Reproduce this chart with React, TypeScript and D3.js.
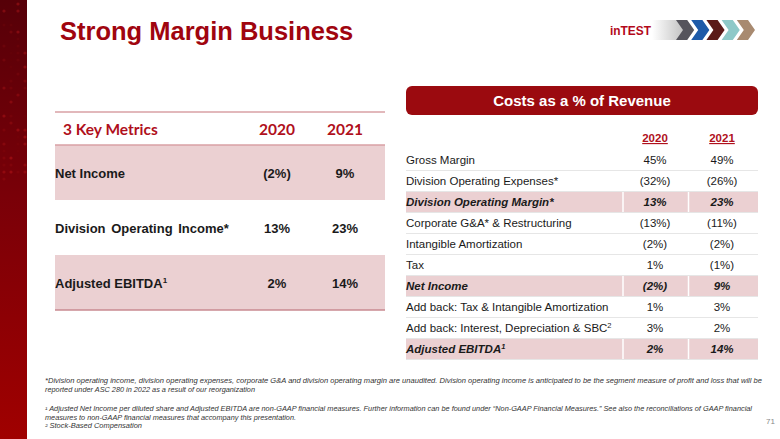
import React from "react";
import * as d3 from "d3";

const title = "Strong Margin Business";
const years = ["2020", "2021"];

const keyMetrics = ["Net Income", "Division Operating Income*", "Adjusted EBITDA"];
const keyMetrics2020 = ["(2%)", "13%", "2%"];
const keyMetrics2021 = ["9%", "23%", "14%"];
const keyMetricSup = ["", "", "1"];
const keyMetricShaded = [true, false, true];

const costRows = [
  "Gross Margin",
  "Division Operating Expenses*",
  "Division Operating Margin*",
  "Corporate G&A* & Restructuring",
  "Intangible Amortization",
  "Tax",
  "Net Income",
  "Add back: Tax & Intangible Amortization",
  "Add back: Interest, Depreciation & SBC",
  "Adjusted EBITDA",
];
const costSup = ["", "", "", "", "", "", "", "", "2", "1"];
const cost2020 = ["45%", "(32%)", "13%", "(13%)", "(2%)", "1%", "(2%)", "1%", "3%", "2%"];
const cost2021 = ["49%", "(26%)", "23%", "(11%)", "(2%)", "(1%)", "9%", "3%", "2%", "14%"];
const costHighlight = [false, false, true, false, false, false, true, false, false, true];

const footnotes = [
  "*Division operating income, division operating expenses, corporate G&A and division operating margin are unaudited.  Division operating income is anticipated to be the segment measure of profit and loss that will be",
  "reported under ASC 280 in 2022 as a result of our reorganization",
  "\u00B9 Adjusted Net Income per diluted share and Adjusted EBITDA are non-GAAP financial measures. Further information can be found under \u201CNon-GAAP Financial Measures.\u201D See also the reconciliations of GAAP financial",
  "measures to non-GAAP financial measures that accompany this presentation.",
  "\u00B2 Stock-Based Compensation",
];
const pageNumber = "71";

const PINK = "#ebd0d2";
const SANS = "Arial, 'Liberation Sans', sans-serif";

function Sidebar() {
  const cols = d3.range(4);
  const rows = d3.range(40);
  const dots: { x: number; y: number; o: number }[] = [];
  rows.forEach((r) =>
    cols.forEach((c) => {
      const h = Math.abs(Math.sin(r * 12.9898 + c * 78.233) * 43758.5453) % 1;
      if (h > 0.45 && r < 26) dots.push({ x: 4 + c * 7, y: 4 + r * 7, o: (h - 0.45) * 0.5 });
    })
  );
  return (
    <g>
      <defs>
        <linearGradient id="sb" x1="0" y1="0" x2="0" y2="1">
          <stop offset="0" stopColor="#560008" />
          <stop offset="0.45" stopColor="#7a0008" />
          <stop offset="1" stopColor="#a00000" />
        </linearGradient>
        <linearGradient id="gl" x1="0" y1="0" x2="1" y2="0">
          <stop offset="0" stopColor="#ffffff" />
          <stop offset="1" stopColor="#bdbdbd" />
        </linearGradient>
      </defs>
      <rect x={0} y={0} width={27} height={439} fill="url(#sb)" />
      {dots.map((d, i) => (
        <circle key={i} cx={d.x} cy={d.y} r={1.6} fill="#ff2a2a" opacity={d.o} />
      ))}
    </g>
  );
}

function Logo() {
  const chev = ["#55545c", "#1d5aa8", "#5a1a18", "#8ec9c8", "#a88a70"];
  const cx = d3.scaleBand<number>().domain(d3.range(chev.length)).range([676, 752]);
  return (
    <g>
      <path d="M652,20 L678,20 L686,30 L678,40 L652,40 Z" fill="url(#gl)" />
      <text x={610} y={34.5} fontFamily={SANS} fontWeight="bold" fontSize={13} fill="#b3081a" textLength={41} lengthAdjust="spacingAndGlyphs">
        inTEST
      </text>
      {chev.map((c, i) => {
        const x = cx(i)!;
        const w = cx.bandwidth();
        return (
          <path
            key={i}
            d={`M${x},20 L${x + w - 4},20 L${x + w + 3},30 L${x + w - 4},40 L${x},40 L${x + 7},30 Z`}
            fill={c}
          />
        );
      })}
    </g>
  );
}

function KeyTable() {
  const y = d3.scaleBand<string>().domain(keyMetrics).range([145, 310]);
  const x = d3.scaleOrdinal<string, number>().domain(years).range([277, 345]);
  return (
    <g fontFamily={SANS}>
      {keyMetrics.map((m, i) =>
        keyMetricShaded[i] ? (
          <rect key={m} x={55} y={y(m)!} width={330} height={y.bandwidth()} fill={PINK} />
        ) : null
      )}
      <line x1={55} x2={385} y1={112} y2={112} stroke="#d9a0a5" strokeWidth={1.5} />
      <line x1={55} x2={385} y1={145} y2={145} stroke="#d9a0a5" strokeWidth={1.5} />
      <line x1={55} x2={385} y1={310} y2={310} stroke="#c98a90" strokeWidth={1.5} />
      <text x={63} y={135} fontFamily="Lato, 'Open Sans', sans-serif" fontWeight="bold" fontSize={15.5} fill="#b0101c">
        3 Key Metrics
      </text>
      {years.map((yr) => (
        <text key={yr} x={x(yr)} y={135} textAnchor="middle" fontFamily="Lato, 'Open Sans', sans-serif" fontWeight="bold" fontSize={15.5} fill="#b0101c">
          {yr}
        </text>
      ))}
      {keyMetrics.map((m, i) => {
        const cy = y(m)! + y.bandwidth() / 2 + 5;
        return (
          <g key={m} fontWeight="bold" fontSize={13} fill="#1a1a1a">
            <text x={55} y={cy} wordSpacing={i === 1 ? 2 : 0}>
              {m}
              {keyMetricSup[i] ? (
                <tspan fontSize={8} dy={-5}>
                  {keyMetricSup[i]}
                </tspan>
              ) : null}
            </text>
            <text x={x(years[0])} y={cy} textAnchor="middle">
              {keyMetrics2020[i]}
            </text>
            <text x={x(years[1])} y={cy} textAnchor="middle">
              {keyMetrics2021[i]}
            </text>
          </g>
        );
      })}
    </g>
  );
}

function CostTable() {
  const y = d3.scaleBand<string>().domain(costRows).range([149.5, 359.5]);
  const x = d3.scaleOrdinal<string, number>().domain(years).range([655, 722]);
  const vals = [cost2020, cost2021];
  return (
    <g fontFamily={SANS}>
      <rect x={406} y={86} width={352} height={29} rx={6} fill="#9b0a0f" />
      <text x={582} y={106} textAnchor="middle" fill="#ffffff" fontWeight="bold" fontSize={15}>
        Costs as a % of Revenue
      </text>
      {years.map((yr) => (
        <text key={yr} x={x(yr)} y={142} textAnchor="middle" fill="#b0101c" fontWeight="bold" fontSize={11.5} textDecoration="underline">
          {yr}
        </text>
      ))}
      {costRows.map((r, i) => (
        <g key={r}>
          {costHighlight[i] ? (
            <g>
              <rect x={406} y={y(r)!} width={352} height={y.bandwidth()} fill={PINK} />
              <line x1={623} x2={623} y1={y(r)!} y2={y(r)! + y.bandwidth()} stroke="#ffffff" strokeWidth={1.5} />
              <line x1={688.5} x2={688.5} y1={y(r)!} y2={y(r)! + y.bandwidth()} stroke="#ffffff" strokeWidth={1.5} />
            </g>
          ) : null}
          {i > 0 ? (
            <line x1={406} x2={758} y1={y(r)!} y2={y(r)!} stroke="#e6e6e6" strokeWidth={1} />
          ) : null}
        </g>
      ))}
      {costRows.map((r, i) => {
        const cy = y(r)! + y.bandwidth() / 2 + 4;
        const hl = costHighlight[i];
        return (
          <g key={r} fontSize={11.5} fill="#1a1a1a" fontWeight={hl ? "bold" : "normal"} fontStyle={hl ? "italic" : "normal"}>
            <text x={406} y={cy}>
              {r}
              {costSup[i] ? (
                <tspan fontSize={7.5} dy={-4}>
                  {costSup[i]}
                </tspan>
              ) : null}
            </text>
            {years.map((yr, k) => (
              <text key={yr} x={x(yr)} y={cy} textAnchor="middle">
                {vals[k][i]}
              </text>
            ))}
          </g>
        );
      })}
      <line x1={406} x2={758} y1={359.5} y2={359.5} stroke="#e6e6e6" strokeWidth={1} />
    </g>
  );
}

function Footnotes() {
  const ys = [383, 392, 411, 419.5, 428];
  const ends = [762, 255, 752, 296, 142];
  return (
    <g fontFamily={SANS} fontStyle="italic" fontSize={7} fill="#333333">
      {footnotes.map((f, i) => (
        <text key={i} x={45} y={ys[i]} textLength={ends[i] - 45} lengthAdjust="spacingAndGlyphs">
          {f}
        </text>
      ))}
      <text x={766} y={424} fontSize={8} fontStyle="normal" fill="#888888">
        {pageNumber}
      </text>
    </g>
  );
}

export default function App() {
  return (
    <svg
      width={780}
      height={439}
      viewBox="0 0 780 439"
      style={{ position: "fixed", left: 0, top: 0, background: "#ffffff" }}
    >
      <rect x={0} y={0} width={780} height={439} fill="#ffffff" />
      <Sidebar />
      <text x={60} y={40} fontFamily={SANS} fontWeight="bold" fontSize={25.5} fill="#a0050f">
        {title}
      </text>
      <Logo />
      <KeyTable />
      <CostTable />
      <Footnotes />
    </svg>
  );
}
